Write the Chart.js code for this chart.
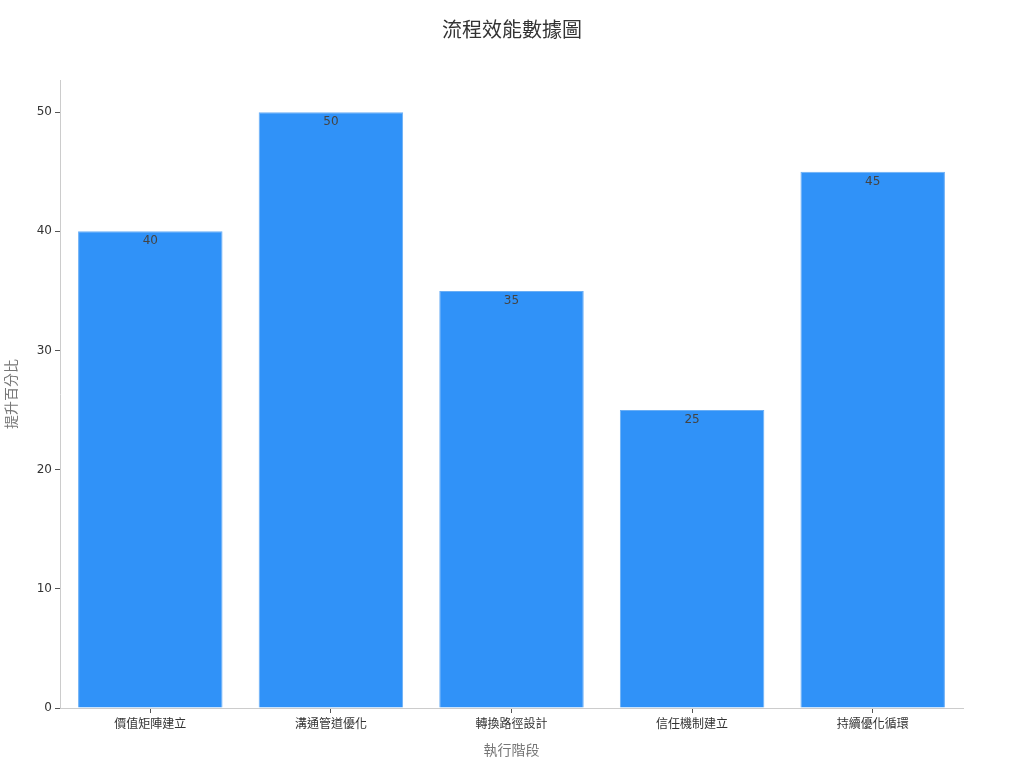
<!DOCTYPE html>
<html>
<head>
<meta charset="utf-8">
<script src="https://cdn.jsdelivr.net/npm/chart.js@4/dist/chart.umd.min.js"></script>
<style>
html,body{margin:0;padding:0;background:#fff;}
#wrap{width:1024px;height:768px;}
</style>
</head>
<body>
<div id="wrap"><canvas id="c" width="1024" height="768"></canvas></div>
<script>
const categories = ['價值矩陣建立','溝通管道優化','轉換路徑設計','信任機制建立','持續優化循環'];
const values = [40, 50, 35, 25, 45];
const yTicks = [0, 10, 20, 30, 40, 50];
const chartTitle = '流程效能數據圖';
const xTitle = '執行階段';
const yTitle = '提升百分比';

const FONT = "'DejaVu Sans','Noto Sans CJK TC',sans-serif";

const labelPlugin = {
  id: 'barLabels',
  afterDatasetsDraw(chart) {
    const ctx = chart.ctx;
    const meta = chart.getDatasetMeta(0);
    ctx.save();
    ctx.font = '12px ' + FONT;
    ctx.fillStyle = '#444';
    ctx.textAlign = 'center';
    ctx.textBaseline = 'middle';
    meta.data.forEach((bar, i) => {
      ctx.fillText(String(values[i]), bar.x, bar.y + 10);
    });
    ctx.restore();
  }
};

const titlePlugin = {
  id: 'pageTitle',
  afterDraw(chart) {
    const ctx = chart.ctx;
    ctx.save();
    ctx.font = '20px ' + FONT;
    ctx.fillStyle = '#333';
    ctx.textAlign = 'center';
    ctx.textBaseline = 'middle';
    ctx.fillText(chartTitle, chart.width / 2, 32);
    ctx.restore();
  }
};

new Chart(document.getElementById('c'), {
  type: 'bar',
  data: {
    labels: categories,
    datasets: [{
      data: values,
      backgroundColor: '#3092F8',
      borderColor: '#6AAEF5',
      borderWidth: 1,
      barPercentage: 0.8,
      categoryPercentage: 1.0
    }]
  },
  options: {
    responsive: false,
    animation: false,
    layout: { padding: { left: 0, right: 61, top: 80, bottom: 4 } },
    plugins: {
      legend: { display: false },
      tooltip: { enabled: false },
      title: { display: false }
    },
    scales: {
      x: {
        grid: { drawOnChartArea: false, drawTicks: true, tickLength: 5, color: '#555', offset: false },
        border: { color: '#ccc' },
        ticks: { color: '#333', font: { family: FONT, size: 12 }, padding: 5 },
        title: { display: true, text: xTitle, color: '#777', font: { family: FONT, size: 14 }, padding: { top: 4, bottom: 4 } },
        afterFit(s) { s.height = 56; }
      },
      y: {
        min: 0,
        max: 52.7,
        afterBuildTicks(s) { s.ticks = yTicks.map(v => ({ value: v })); },
        grid: { drawOnChartArea: false, drawTicks: true, tickLength: 5, color: '#555' },
        border: { color: '#ccc' },
        ticks: { color: '#333', font: { family: FONT, size: 12 }, padding: 3 },
        title: { display: true, text: yTitle, color: '#777', font: { family: FONT, size: 14 }, padding: { bottom: 8 } },
        afterFit(s) { s.width = 60; }
      }
    }
  },
  plugins: [labelPlugin, titlePlugin]
});
</script>
</body>
</html>
